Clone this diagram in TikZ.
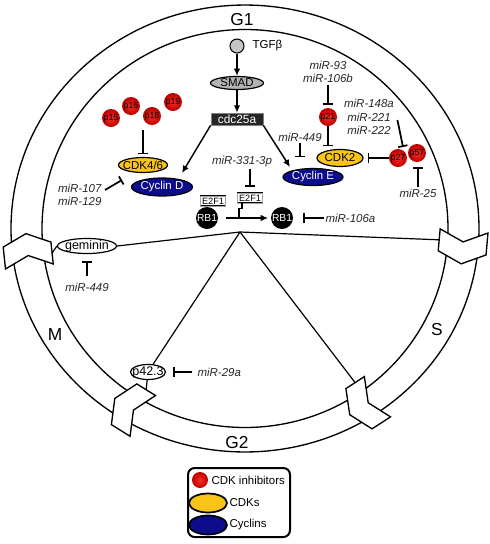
\documentclass[tikz,border=0pt]{standalone}
\usepackage{fontspec}
\setmainfont{Liberation Sans}
\usetikzlibrary{arrows.meta,shapes.geometric,calc}
\definecolor{cdkyel}{RGB}{248,196,24}
\definecolor{cycblue}{RGB}{12,12,140}
\definecolor{ballin}{RGB}{250,45,35}
\definecolor{ballout}{RGB}{185,0,0}
\newcommand\mychev[2]{%
  \begin{scope}[shift={({245+218.5*cos(#1)},{-228.5+211*sin(#1)})}, rotate={#1-90}]
    \filldraw[chev] (-16,-24) -- (-5,0) -- (-16,24) -- (6,24) -- (17,0) -- (6,-24) -- cycle;
    \coordinate (#2) at (-5,-24);
  \end{scope}}
\tikzset{
  txt/.style={font=\fontsize{8.6pt}{10pt}\selectfont, inner sep=1pt},
  mir/.style={font=\fontsize{8.6pt}{10.3pt}\selectfont\itshape, text=black!85, inner sep=1pt, align=center},
  lbl/.style={font=\fontsize{8.6pt}{10pt}\selectfont, inner sep=0pt},
  lblb/.style={font=\fontsize{9.4pt}{10pt}\selectfont, inner sep=0pt},
  oval/.style 2 args={ellipse, draw, line width=0.9pt, inner sep=0pt, minimum width=#1, minimum height=#2},
  ball/.style={circle, shading=radial, inner color=ballin, outer color=ballout, minimum size=13.5pt, inner sep=0pt, font=\fontsize{6.6pt}{7pt}\selectfont},
  rb/.style={circle, fill=black, text=white, minimum size=16.5pt, inner sep=0pt, font=\fontsize{7.7pt}{8pt}\selectfont},
  ebox/.style={draw=black, double=gray!70, double distance=0.4pt, fill=white, line width=0.4pt, inner xsep=1.2pt, inner ysep=0.8pt, minimum height=7.5pt, font=\fontsize{6.9pt}{7pt}\selectfont},
  inh/.style={-{Bar[width=7pt,line width=1.3pt]}, line width=1.3pt},
  act/.style={-{Latex[length=5.5pt,width=5pt]}, line width=1.1pt},
  phase/.style={font=\fontsize{13pt}{15pt}\selectfont, inner sep=0pt},
  ringline/.style={line width=1pt},
  chev/.style={draw, fill=white, line width=1pt, line join=miter},
  wire/.style={line width=0.9pt},
}
\begin{document}
\begin{tikzpicture}[x=0.75pt, y=0.75pt]
\useasboundingbox (0,0) rectangle (490,-544);
% ring
\draw[ringline] (245,-228.5) ellipse [x radius=175.5pt, y radius=167.6pt];
\draw[ringline] (245,-228.5) ellipse [x radius=152.25pt, y radius=149.25pt];
\mychev{-5}{chR}
\mychev{186}{chL}
\mychev{238}{chBL}
\mychev{-57}{chBR}
% phase labels
\node[phase] (g1) at (242,-20) {G1};
\node[phase] (sph) at (437,-330) {S};
\node[phase] (g2) at (237,-443) {G2};
\node[phase] (mph) at (55,-335) {M};
% top pathway
\node[circle, draw, fill=gray!45, line width=0.8pt, minimum size=10.5pt, inner sep=0pt] (tgf) at (237,-46) {};
\node[txt, anchor=west] (tgflbl) at (251,-46) {TGFβ};
\node[oval={39.75pt}{9.75pt}, fill=gray!60, label={[lbl]center:SMAD}] (smad) at (237,-83) {};
\node[rectangle, fill=black!85, draw=gray, line width=0.6pt, minimum width=39pt, minimum height=9pt, inner sep=0pt, text=white, font=\fontsize{8.9pt}{10pt}\selectfont] (cdc) at (237,-119) {cdc25a};
\draw[act] (tgf) -- (smad);
\draw[act] (smad) -- (cdc);
% CDK4/6 side
\node[ball] (p15) at (111,-118) {p15};
\node[ball] (p16) at (131,-106) {p16};
\node[ball] (p18) at (152,-116) {p18};
\node[ball] (p19) at (173,-102) {p19};
\node[oval={36.75pt}{11.25pt}, fill=cdkyel, label={[lbl]center:CDK4/6}] (cdk46) at (143,-165) {};
\node[oval={45.75pt}{13.5pt}, fill=cycblue, label={[lbl,text=white]center:Cyclin D}] (cycD) at (162,-187) {};
\coordinate (inkD) at (143,-130);
\draw[inh, shorten >=2pt] (inkD) -- (cdk46.north);
\node[mir, align=right, anchor=east] (mirD) at (103,-195) {miR-107\\miR-129};
\draw[inh] ($(mirD.east)+(2,5)$) -- ($(cdk46.center)+(-21,-15)$);
\draw[act] (cdc.south west) -- ($(cycD.center)+(20,14)$);
% CDK2 side
\node[oval={45pt}{12.75pt}, fill=cycblue, label={[lbl,text=white]center:Cyclin E}] (cycE) at (313,-177) {};
\node[oval={34.5pt}{12.75pt}, fill=cdkyel, label={[lbl]center:CDK2}] (cdk2) at (340,-158) {};
\draw[act] (cdc.south east) -- ($(cycE.center)+(-23,10)$);
\node[mir] (mir449R) at (300,-137) {miR-449};
\draw[inh, shorten >=8pt] (mir449R.south) -- (mir449R.south |- cycE.north);
\node[mir] (mir93) at (328,-72) {miR-93\\miR-106b};
\node[ball] (p21) at (328,-117) {p21};
\draw[inh, shorten >=2pt] (mir93.south) -- (p21.north);
\draw[inh, shorten >=2pt] (p21.south) -- (p21.south |- cdk2.north);
\node[ball] (p57) at (417,-153) {p57};
\node[ball] (p27) at (398,-158) {p27};
\draw[inh, shorten >=3pt] (p27.west) -- (p27.west -| cdk2.east);
\node[mir] (mir148) at (369,-117) {miR-148a\\miR-221\\miR-222};
\draw[inh] ($(mir148.east)+(2,-3)$) -- ($(p27.center)+(5,11)$);
\node[mir] (mir25) at (418,-193) {miR-25};
\draw[inh, shorten >=3.5pt] (mir25.north) -- (mir25.north |- p57.south);
% E2F1 / RB1
\node[mir] (mir331) at (242,-162) {miR-331-3p};
\node[rb] (rb1a) at (207,-218) {RB1};
\node[rb] (rb1b) at (282,-218) {RB1};
\node[ebox] (e2a) at (213,-201) {E2F1};
\node[ebox] (e2b) at (250,-198) {E2F1};
\draw[inh] ($(mir331.south)+(8,0)$) -- ($(e2b.north)+(0,6)$);
\draw[act, shorten <=6pt, shorten >=2pt] (rb1a) -- (rb1b);
\draw[wire] ($(e2b.south)+(-8,0)$) -- ++(0,-5) -- ++(-3,0) -- ++(0,-9.5);
\node[mir, anchor=west] (mir106a) at (324,-218) {miR-106a};
\draw[inh, shorten >=7.5pt] (mir106a.west) -- (rb1b.east);
% lower wiring
\coordinate (apex) at (240,-232);
\node[oval={44.25pt}{11.25pt}, fill=white, label={[lblb]center:geminin}] (gem) at (87,-246) {};
\node[oval={26.25pt}{11.25pt}, fill=white, label={[lblb]center:p42.3}] (p423) at (148,-372) {};
\draw[wire] (chL) -- (gem.west);
\draw[wire] (gem.east) -- (apex) -- (chR);
\draw[wire] (apex) -- (p423);
\draw[wire] (apex) -- (chBR);
\draw[wire] (p423) -- (chBL);
\node[mir] (mir449L) at (87,-287) {miR-449};
\draw[inh, shorten <=4pt, shorten >=5pt] (mir449L.north) -- (gem.south);
\node[mir, anchor=west] (mir29) at (196,-372) {miR-29a};
\draw[inh, shorten <=3pt, shorten >=5pt] (mir29.west) -- (p423.east);
% legend
\node[draw, line width=1.5pt, rounded corners=5pt, minimum width=76.5pt, minimum height=51.75pt] (legend) at (239,-502.5) {};
\node[ball, minimum size=12pt] (lgball) at (200,-480) {};
\node[txt, anchor=west] (lgtxt1) at (210,-480) {CDK inhibitors};
\node[oval={28.5pt}{14.25pt}, fill=cdkyel, line width=1.3pt] (lgcdk) at (208,-503) {};
\node[txt, anchor=west] (lgtxt2) at (228,-503) {CDKs};
\node[oval={28.5pt}{14.25pt}, fill=cycblue, line width=1.3pt] (lgcyc) at (208,-525) {};
\node[txt, anchor=west] (lgtxt3) at (228,-525) {Cyclins};
\end{tikzpicture}
\end{document}
